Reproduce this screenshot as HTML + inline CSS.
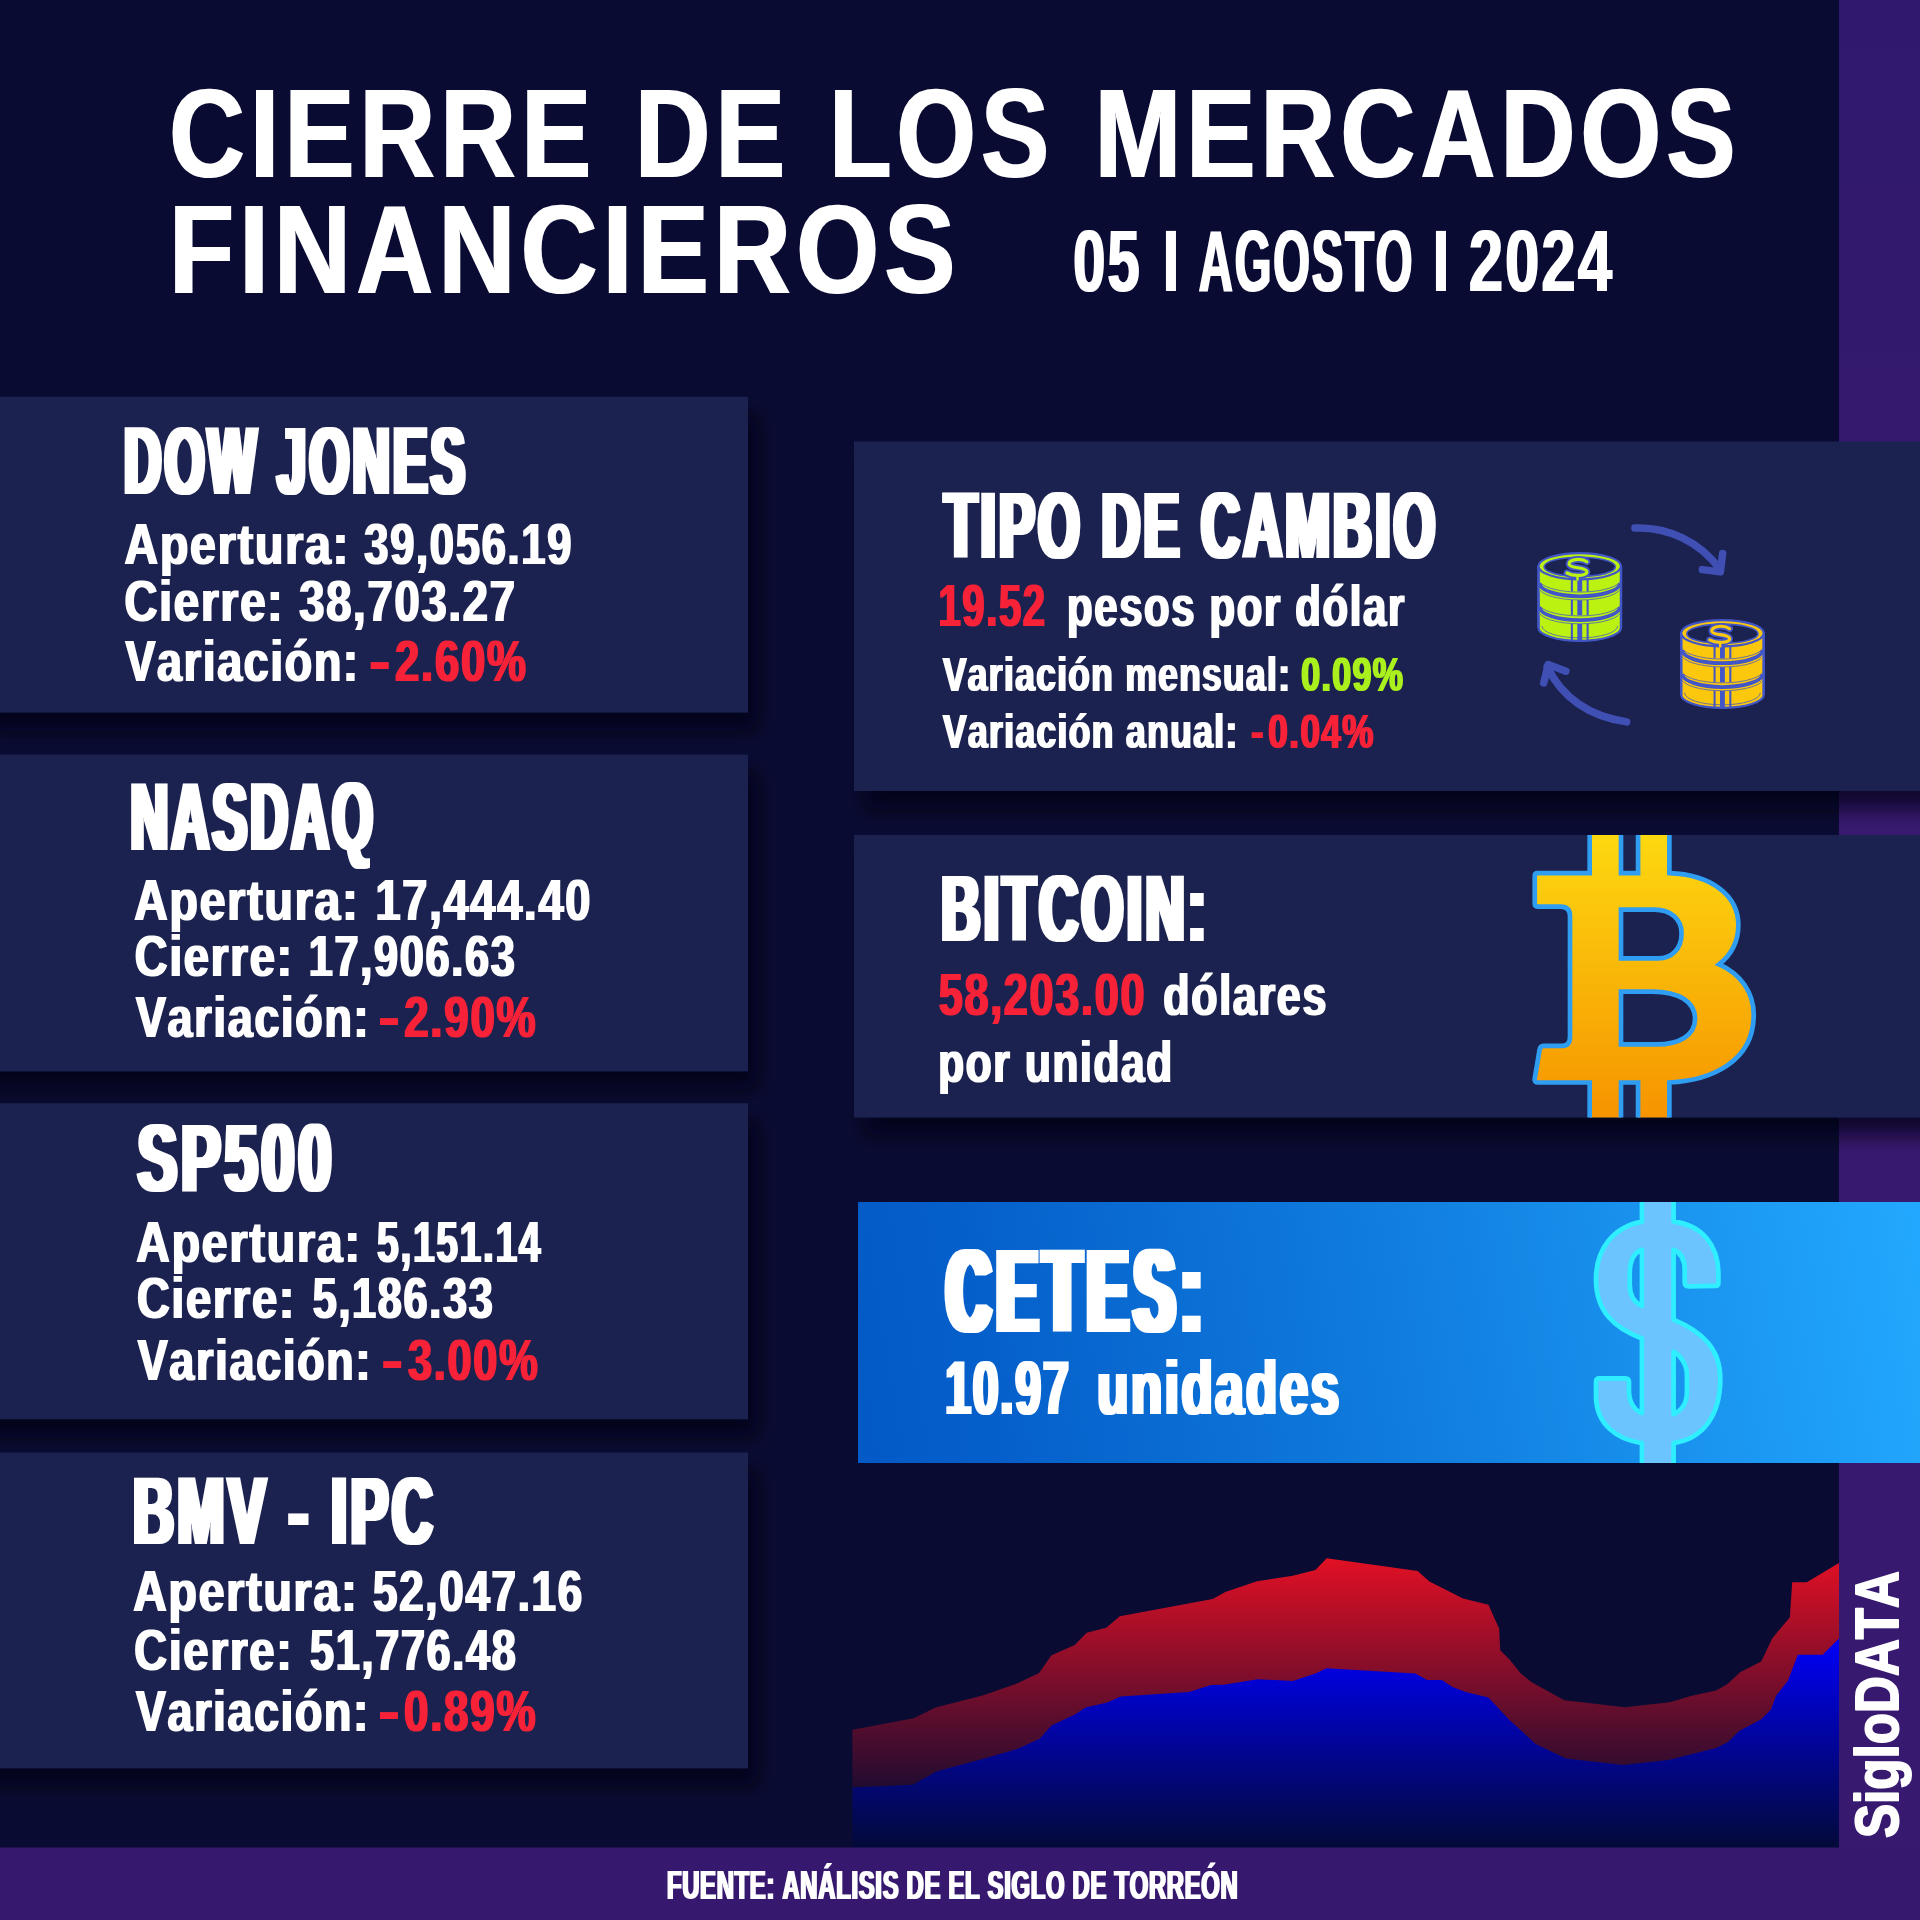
<!DOCTYPE html>
<html lang="es"><head><meta charset="utf-8"><title>Cierre de los mercados financieros</title>
<style>html,body{margin:0;padding:0;background:#0a0b32;}body{width:1920px;height:1920px;overflow:hidden}svg{display:block}</style>
</head><body>
<svg width="1920" height="1920" viewBox="0 0 1920 1920">
<defs>
<filter id="sh" x="-10%" y="-20%" width="120%" height="150%"><feDropShadow dx="10" dy="18" stdDeviation="9" flood-color="#000008" flood-opacity="0.7"/></filter>
<linearGradient id="cet" gradientUnits="userSpaceOnUse" x1="858" y1="1420" x2="1920" y2="1250"><stop offset="0" stop-color="#035ac6"/><stop offset="0.12" stop-color="#055fca"/><stop offset="0.5" stop-color="#107cde"/><stop offset="1" stop-color="#22a8fe"/></linearGradient>
<linearGradient id="gred" gradientUnits="userSpaceOnUse" x1="0" y1="1558" x2="0" y2="1815"><stop offset="0" stop-color="#e21024"/><stop offset="1" stop-color="#0a0b32"/></linearGradient>
<linearGradient id="gblue" gradientUnits="userSpaceOnUse" x1="0" y1="1640" x2="0" y2="1848"><stop offset="0" stop-color="#0000f8"/><stop offset="1" stop-color="#030a38"/></linearGradient>
<linearGradient id="gpur" gradientUnits="userSpaceOnUse" x1="0" y1="0" x2="0" y2="700"><stop offset="0" stop-color="#2f196e"/><stop offset="1" stop-color="#37196f"/></linearGradient>
<linearGradient id="gbtc" gradientUnits="userSpaceOnUse" x1="0" y1="80" x2="0" y2="1590"><stop offset="0" stop-color="#fdd810"/><stop offset="1" stop-color="#f69400"/></linearGradient>
<clipPath id="cbtc"><rect x="854" y="835" width="1066" height="282.5"/></clipPath>
<clipPath id="ccet"><rect x="858" y="1202" width="1062" height="261"/></clipPath>
<filter id="d1_0" x="-5%" y="-5%" width="110%" height="110%"><feMorphology operator="dilate" radius="1 0"/></filter>
<filter id="d3_0" x="-5%" y="-5%" width="110%" height="110%"><feMorphology operator="dilate" radius="3 0"/></filter>
<filter id="d5_0" x="-5%" y="-5%" width="110%" height="110%"><feMorphology operator="dilate" radius="5 0"/></filter>
<filter id="d2_0" x="-5%" y="-5%" width="110%" height="110%"><feMorphology operator="dilate" radius="2 0"/></filter>
</defs>
<rect width="1920" height="1920" fill="#0a0b32"/>
<rect x="1839" y="0" width="81" height="1920" fill="url(#gpur)"/>
<polygon points="852.4,1729.8 913.7,1718.3 935.6,1707.6 983.4,1695.3 1015.8,1684.0 1039.1,1673.0 1051.5,1655.3 1074.8,1644.9 1086.7,1632.8 1106.3,1627.8 1119.8,1616.2 1212.7,1599.1 1225.3,1592.0 1257.1,1581.3 1292.8,1575.7 1315.4,1570.1 1326.7,1558.3 1417.6,1570.9 1429.4,1581.6 1463.1,1598.5 1488.4,1604.7 1499.1,1628.6 1500.2,1650.2 1509.5,1659.5 1520.8,1673.6 1532.0,1682.6 1564.4,1700.3 1624.8,1707.3 1669.8,1702.3 1690.9,1696.1 1716.2,1690.5 1727.5,1684.0 1740.2,1672.2 1761.2,1661.5 1772.5,1637.9 1789.9,1617.3 1792.2,1582.2 1806.8,1582.2 1839.0,1563.1 1839,1848 852.4,1848" fill="url(#gred)"/>
<polygon points="852.4,1787.5 912.6,1784.7 937.0,1771.2 986.2,1758.0 1017.2,1749.0 1039.7,1738.8 1051.5,1725.6 1074.8,1714.4 1085.5,1707.6 1107.2,1702.6 1120.7,1696.4 1188.7,1691.9 1211.2,1685.1 1223.9,1684.8 1257.7,1679.2 1292.8,1680.9 1315.4,1673.6 1326.7,1668.2 1415.3,1673.6 1427.1,1680.1 1442.0,1680.1 1451.9,1686.8 1465.9,1691.9 1488.4,1697.5 1509.5,1720.0 1535.7,1743.9 1565.8,1758.5 1623.4,1765.0 1668.4,1759.9 1716.2,1748.1 1728.1,1741.9 1738.8,1731.2 1761.2,1719.2 1771.1,1709.6 1775.9,1696.1 1788.0,1680.6 1797.8,1654.8 1822.6,1654.8 1839.0,1638.4 1839,1848 852.4,1848" fill="url(#gblue)"/>
<rect x="0" y="1847.5" width="1920" height="72.5" fill="#36196f"/>
<rect x="-30" y="396.7" width="778" height="315.8" fill="#1b2350" filter="url(#sh)"/>
<rect x="-30" y="754.6" width="778" height="316.7" fill="#1b2350" filter="url(#sh)"/>
<rect x="-30" y="1103.3" width="778" height="315.9" fill="#1b2350" filter="url(#sh)"/>
<rect x="-30" y="1452.5" width="778" height="315.8" fill="#1b2350" filter="url(#sh)"/>
<rect x="854" y="441.5" width="1100" height="349.5" fill="#1b2350" filter="url(#sh)"/>
<rect x="854" y="835" width="1100" height="282.5" fill="#1b2350" filter="url(#sh)"/>
<rect x="858" y="1202" width="1062" height="261" fill="url(#cet)"/>
<g clip-path="url(#cbtc)"><g transform="translate(1480,820) scale(0.1875)"><path d="M585,40 L585,283 L307,283 Q292,283 292,298 L292,447 Q292,462 307,462 L430,462 Q480,462 480,512 L480,1155 Q480,1205 440,1205 L342,1205 Q322,1205 318,1224 L292,1378 Q288,1400 310,1400 L585,1400 L585,1640 L752,1640 L752,1400 L843,1400 L843,1640 L1010,1640 L1010,1400 C1230,1390 1460,1290 1460,1040 C1460,920 1390,820 1275,770 C1345,715 1378,640 1378,560 C1378,400 1230,290 1010,283 L1010,40 L843,40 L843,283 L752,283 L752,40 Z M752,478 L930,478 C1020,478 1075,530 1075,605 C1075,690 1020,738 950,738 L752,738 Z M752,915 L920,915 C1060,915 1147,970 1147,1060 C1147,1150 1060,1197 940,1197 L752,1197 Z" fill="url(#gbtc)" fill-rule="evenodd" stroke="#2e9df2" stroke-width="25" stroke-linejoin="miter"/></g></g>
<g clip-path="url(#ccet)"><g transform="translate(1500,1180) scale(0.1875)"><path d="M757,60 L757,222 C610,250 512,360 512,530 C512,700 610,790 757,845 L757,1243 C720,1230 690,1190 688,1130 L688,1078 Q688,1058 668,1058 L530,1058 Q512,1058 512,1076 L512,1160 C515,1300 620,1385 757,1403 L757,1560 L926,1560 L926,1403 C1080,1380 1175,1260 1175,1060 C1175,900 1080,810 926,745 L926,372 C960,385 985,420 985,480 L985,547 Q985,567 1005,567 L1148,565 Q1165,565 1165,548 L1165,500 C1165,350 1080,240 926,222 L926,60 Z M757,372 C720,385 692,420 692,500 L692,560 C692,620 720,655 757,672 Z M926,915 C960,935 997,980 997,1040 L997,1130 C997,1190 965,1230 926,1248 Z" fill="#6cc4ff" fill-rule="evenodd" stroke="#2eeeff" stroke-width="25" stroke-linejoin="round"/></g></g>
<g transform="translate(1480,480) scale(0.1875)">
<path d="M312,460 L312,788 A220,70 0 0 0 752,788 L752,460 Z" fill="#bcf212" stroke="#4256c8" stroke-width="12"/>
<line x1="490" y1="530" x2="490" y2="856" stroke="#4256c8" stroke-width="11"/>
<line x1="532" y1="530" x2="532" y2="858" stroke="#4256c8" stroke-width="26"/>
<line x1="574" y1="530" x2="574" y2="856" stroke="#4256c8" stroke-width="11"/>
<path d="M330,778 A202,64 0 0 0 734,778" fill="none" stroke="#4256c8" stroke-width="4"/>
<clipPath id="ck532"><path d="M312,460 L312,788 A220,70 0 0 0 752,788 L752,460 Z"/></clipPath><g clip-path="url(#ck532)">
<path d="M312,548 A220,70 0 0 0 752,548" fill="none" stroke="#bcf212" stroke-width="46"/>
<path d="M312,528 A220,70 0 0 0 752,528" fill="none" stroke="#4256c8" stroke-width="4"/>
<path d="M312,570 A220,70 0 0 0 752,570" fill="none" stroke="#4256c8" stroke-width="4"/>
<path d="M318,550 A214,70 0 0 0 746,550" fill="none" stroke="#4256c8" stroke-width="20"/>
<path d="M312,675 A220,70 0 0 0 752,675" fill="none" stroke="#bcf212" stroke-width="46"/>
<path d="M312,655 A220,70 0 0 0 752,655" fill="none" stroke="#4256c8" stroke-width="4"/>
<path d="M312,697 A220,70 0 0 0 752,697" fill="none" stroke="#4256c8" stroke-width="4"/>
<path d="M318,677 A214,70 0 0 0 746,677" fill="none" stroke="#4256c8" stroke-width="20"/>
</g>
<path d="M312,460 L312,788 M752,788 L752,460" fill="none" stroke="#4256c8" stroke-width="12"/>
<ellipse cx="532" cy="460" rx="220" ry="70" fill="#bcf212" stroke="#4256c8" stroke-width="12"/>
<ellipse cx="532" cy="463" rx="190" ry="51" fill="#1b2350" stroke="#4256c8" stroke-width="9"/>
<path d="M520,510 L520,532" stroke="#4256c8" stroke-width="30" fill="none"/>
<path d="M570,436 C540,414 470,422 476,450 C482,474 564,462 570,488 C574,512 500,516 464,496" fill="none" stroke="#4256c8" stroke-width="36" stroke-linecap="round"/>
<path d="M520,510 L520,536" stroke="#bcf212" stroke-width="13" fill="none"/>
<path d="M570,436 C540,414 470,422 476,450 C482,474 564,462 570,488 C574,512 500,516 464,496" fill="none" stroke="#bcf212" stroke-width="17" stroke-linecap="round"/>
<path d="M1073,817 L1073,1145 A220,70 0 0 0 1513,1145 L1513,817 Z" fill="#fcc80e" stroke="#4256c8" stroke-width="12"/>
<line x1="1251" y1="887" x2="1251" y2="1213" stroke="#4256c8" stroke-width="11"/>
<line x1="1293" y1="887" x2="1293" y2="1215" stroke="#4256c8" stroke-width="26"/>
<line x1="1335" y1="887" x2="1335" y2="1213" stroke="#4256c8" stroke-width="11"/>
<path d="M1091,1135 A202,64 0 0 0 1495,1135" fill="none" stroke="#4256c8" stroke-width="4"/>
<clipPath id="ck1293"><path d="M1073,817 L1073,1145 A220,70 0 0 0 1513,1145 L1513,817 Z"/></clipPath><g clip-path="url(#ck1293)">
<path d="M1073,905 A220,70 0 0 0 1513,905" fill="none" stroke="#fcc80e" stroke-width="46"/>
<path d="M1073,885 A220,70 0 0 0 1513,885" fill="none" stroke="#4256c8" stroke-width="4"/>
<path d="M1073,927 A220,70 0 0 0 1513,927" fill="none" stroke="#4256c8" stroke-width="4"/>
<path d="M1079,907 A214,70 0 0 0 1507,907" fill="none" stroke="#4256c8" stroke-width="20"/>
<path d="M1073,1032 A220,70 0 0 0 1513,1032" fill="none" stroke="#fcc80e" stroke-width="46"/>
<path d="M1073,1012 A220,70 0 0 0 1513,1012" fill="none" stroke="#4256c8" stroke-width="4"/>
<path d="M1073,1054 A220,70 0 0 0 1513,1054" fill="none" stroke="#4256c8" stroke-width="4"/>
<path d="M1079,1034 A214,70 0 0 0 1507,1034" fill="none" stroke="#4256c8" stroke-width="20"/>
</g>
<path d="M1073,817 L1073,1145 M1513,1145 L1513,817" fill="none" stroke="#4256c8" stroke-width="12"/>
<ellipse cx="1293" cy="817" rx="220" ry="70" fill="#fcc80e" stroke="#4256c8" stroke-width="12"/>
<ellipse cx="1293" cy="820" rx="190" ry="51" fill="#1b2350" stroke="#4256c8" stroke-width="9"/>
<path d="M1281,867 L1281,889" stroke="#4256c8" stroke-width="30" fill="none"/>
<path d="M1331,793 C1301,771 1231,779 1237,807 C1243,831 1325,819 1331,845 C1335,869 1261,873 1225,853" fill="none" stroke="#4256c8" stroke-width="36" stroke-linecap="round"/>
<path d="M1281,867 L1281,893" stroke="#fcc80e" stroke-width="13" fill="none"/>
<path d="M1331,793 C1301,771 1231,779 1237,807 C1243,831 1325,819 1331,845 C1335,869 1261,873 1225,853" fill="none" stroke="#fcc80e" stroke-width="17" stroke-linecap="round"/>
<g fill="none" stroke="#3f4fb4" stroke-width="40" stroke-linecap="round" stroke-linejoin="round">
<path d="M826,256 A530,530 0 0 1 1278,474"/>
<path d="M1186,478 L1282,490 L1294,392"/>
<path d="M782,1290 Q480,1245 358,996"/>
<path d="M340,1082 L364,984 L458,1020"/>
</g></g>
<g font-family="'Liberation Sans', sans-serif" font-weight="700" style="font-kerning:none" stroke-linejoin="round">
<g filter="url(#d1_0)">
<text transform="translate(169.20,176.90) scale(0.8254,1)" font-size="126.89" letter-spacing="6.34" fill="#fff">CIERRE</text>
<text transform="translate(635.03,176.90) scale(0.8217,1)" font-size="126.89" letter-spacing="6.34" fill="#fff">DE</text>
<text transform="translate(829.18,176.90) scale(0.8036,1)" font-size="126.89" letter-spacing="6.34" fill="#fff">LOS</text>
<text transform="translate(1094.67,176.90) scale(0.8168,1)" font-size="126.89" letter-spacing="6.34" fill="#fff">MERCADOS</text>
<text transform="translate(168.88,293.40) scale(0.8436,1)" font-size="126.16" letter-spacing="6.31" fill="#fff">FINANCIEROS</text>
<text transform="translate(1073.22,291.30) scale(0.6573,1)" font-size="87.65" letter-spacing="3.51" fill="#fff">05</text>
<text transform="translate(1163.28,291.30) scale(0.6337,1)" font-size="87.65" letter-spacing="3.51" fill="#fff">I</text>
<text transform="translate(1198.83,291.30) scale(0.5377,1)" font-size="87.65" letter-spacing="3.51" fill="#fff">AGOSTO</text>
<text transform="translate(1433.28,291.30) scale(0.6337,1)" font-size="87.65" letter-spacing="3.51" fill="#fff">I</text>
<text transform="translate(1468.89,291.30) scale(0.6956,1)" font-size="87.65" letter-spacing="3.51" fill="#fff">2024</text>
</g>
<g filter="url(#d3_0)">
<text transform="translate(124.28,493.75) scale(0.5290,1)" font-size="96.51" letter-spacing="6.76" fill="#fff">DOW JONES</text>
</g>
<g filter="url(#d1_0)">
<text transform="translate(124.54,564.00) scale(0.8023,1)" font-size="57.85" letter-spacing="2.31" fill="#fff">Apertura:</text>
<text transform="translate(364.30,564.00) scale(0.7508,1)" font-size="57.85" letter-spacing="2.31" fill="#fff">39,056.19</text>
<text transform="translate(124.43,620.80) scale(0.7894,1)" font-size="57.85" letter-spacing="2.31" fill="#fff">Cierre:</text>
<text transform="translate(299.16,620.80) scale(0.7824,1)" font-size="57.85" letter-spacing="2.31" fill="#fff">38,703.27</text>
<text transform="translate(125.39,681.25) scale(0.7740,1)" font-size="57.85" letter-spacing="2.31" fill="#fff">Variación:</text>
<text transform="translate(369.34,681.25) scale(1.0893,1)" font-size="57.85" letter-spacing="2.31" fill="#f82438">-</text><text transform="translate(394.98,681.25) scale(0.7558,1)" font-size="57.85" letter-spacing="2.31" fill="#f82438">2.60%</text>
</g>
<g filter="url(#d3_0)">
<text transform="translate(130.80,849.80) scale(0.5349,1)" font-size="96.51" letter-spacing="6.76" fill="#fff">NASDAQ</text>
</g>
<g filter="url(#d1_0)">
<text transform="translate(134.25,920.20) scale(0.8012,1)" font-size="57.85" letter-spacing="2.31" fill="#fff">Apertura:</text>
<text transform="translate(375.46,920.20) scale(0.7790,1)" font-size="57.85" letter-spacing="2.31" fill="#fff">17,444.40</text>
<text transform="translate(134.84,976.10) scale(0.7842,1)" font-size="57.85" letter-spacing="2.31" fill="#fff">Cierre:</text>
<text transform="translate(308.68,976.10) scale(0.7474,1)" font-size="57.85" letter-spacing="2.31" fill="#fff">17,906.63</text>
<text transform="translate(135.89,1037.30) scale(0.7744,1)" font-size="57.85" letter-spacing="2.31" fill="#fff">Variación:</text>
<text transform="translate(378.54,1037.30) scale(1.0893,1)" font-size="57.85" letter-spacing="2.31" fill="#f82438">-</text><text transform="translate(404.18,1037.30) scale(0.7582,1)" font-size="57.85" letter-spacing="2.31" fill="#f82438">2.90%</text>
</g>
<g filter="url(#d3_0)">
<text transform="translate(137.80,1191.25) scale(0.6105,1)" font-size="96.51" letter-spacing="6.76" fill="#fff">SP500</text>
</g>
<g filter="url(#d1_0)">
<text transform="translate(136.34,1262.30) scale(0.8019,1)" font-size="57.85" letter-spacing="2.31" fill="#fff">Apertura:</text>
<text transform="translate(377.09,1262.30) scale(0.6774,1)" font-size="57.85" letter-spacing="2.31" fill="#fff">5,151.14</text>
<text transform="translate(136.94,1318.30) scale(0.7847,1)" font-size="57.85" letter-spacing="2.31" fill="#fff">Cierre:</text>
<text transform="translate(312.67,1318.30) scale(0.7465,1)" font-size="57.85" letter-spacing="2.31" fill="#fff">5,186.33</text>
<text transform="translate(137.69,1379.50) scale(0.7747,1)" font-size="57.85" letter-spacing="2.31" fill="#fff">Variación:</text>
<text transform="translate(381.84,1379.50) scale(1.0893,1)" font-size="57.85" letter-spacing="2.31" fill="#f82438">-</text><text transform="translate(408.01,1379.50) scale(0.7481,1)" font-size="57.85" letter-spacing="2.31" fill="#f82438">3.00%</text>
</g>
<g filter="url(#d3_0)">
<text transform="translate(133.15,1543.90) scale(0.5811,1)" font-size="96.51" letter-spacing="6.76" fill="#fff">BMV - IPC</text>
</g>
<g filter="url(#d1_0)">
<text transform="translate(133.15,1611.00) scale(0.8015,1)" font-size="57.85" letter-spacing="2.31" fill="#fff">Apertura:</text>
<text transform="translate(373.05,1611.00) scale(0.7581,1)" font-size="57.85" letter-spacing="2.31" fill="#fff">52,047.16</text>
<text transform="translate(134.34,1670.40) scale(0.7847,1)" font-size="57.85" letter-spacing="2.31" fill="#fff">Cierre:</text>
<text transform="translate(310.07,1670.40) scale(0.7455,1)" font-size="57.85" letter-spacing="2.31" fill="#fff">51,776.48</text>
<text transform="translate(135.89,1731.40) scale(0.7727,1)" font-size="57.85" letter-spacing="2.31" fill="#fff">Variación:</text>
<text transform="translate(378.54,1731.40) scale(1.0893,1)" font-size="57.85" letter-spacing="2.31" fill="#f82438">-</text><text transform="translate(403.96,1731.40) scale(0.7594,1)" font-size="57.85" letter-spacing="2.31" fill="#f82438">0.89%</text>
</g>
<g filter="url(#d3_0)">
<text transform="translate(944.60,558.40) scale(0.5644,1)" font-size="94.04" letter-spacing="6.58" fill="#fff">TIPO DE CAMBIO</text>
</g>
<g filter="url(#d1_0)">
<text transform="translate(938.48,625.60) scale(0.6681,1)" font-size="59.88" letter-spacing="2.40" fill="#f82438">19.52</text>
<text transform="translate(1066.99,625.60) scale(0.7185,1)" font-size="58.24" letter-spacing="2.33" fill="#fff">pesos por dólar</text>
<text transform="translate(942.96,691.25) scale(0.7343,1)" font-size="47.97" letter-spacing="1.92" fill="#fff">Variación mensual:</text>
<text transform="translate(1301.26,691.25) scale(0.7074,1)" font-size="47.97" letter-spacing="1.92" fill="#aaf01e">0.09%</text>
<text transform="translate(942.96,748.00) scale(0.7374,1)" font-size="47.97" letter-spacing="1.92" fill="#fff">Variación anual:</text>
<text transform="translate(1251.18,748.00) scale(0.7554,1)" font-size="47.97" letter-spacing="1.92" fill="#f82438">-</text><text transform="translate(1268.36,748.00) scale(0.7305,1)" font-size="47.97" letter-spacing="1.92" fill="#f82438">0.04%</text>
</g>
<g filter="url(#d3_0)">
<text transform="translate(941.62,940.60) scale(0.5705,1)" font-size="93.90" letter-spacing="6.57" fill="#fff">BITCOIN:</text>
</g>
<g filter="url(#d1_0)">
<text transform="translate(938.67,1015.00) scale(0.7208,1)" font-size="59.88" letter-spacing="2.40" fill="#f82438">58,203.00</text>
<text transform="translate(1163.24,1015.00) scale(0.7376,1)" font-size="58.24" letter-spacing="2.33" fill="#fff">dólares</text>
<text transform="translate(938.21,1082.20) scale(0.7372,1)" font-size="57.41" letter-spacing="2.30" fill="#fff">por unidad</text>
</g>
<g filter="url(#d5_0)">
<text transform="translate(946.95,1331.90) scale(0.5002,1)" font-size="119.19" letter-spacing="14.30" fill="#fff">CETES:</text>
</g>
<g filter="url(#d2_0)">
<text transform="translate(945.38,1414.00) scale(0.6028,1)" font-size="75.58" letter-spacing="3.78" fill="#fff">10.97</text>
<text transform="translate(1097.34,1414.00) scale(0.6749,1)" font-size="75.58" letter-spacing="3.78" fill="#fff">unidades</text>
</g>
<g filter="url(#d1_0)">
<text transform="translate(666.91,1898.75) scale(0.5854,1)" font-size="40.70" letter-spacing="1.22" fill="#fff">FUENTE: ANÁLISIS DE EL SIGLO DE TORREÓN</text>
</g>
<g transform="translate(1897.5,1838) rotate(-90)"><text x="0" y="0" font-size="61" textLength="267" lengthAdjust="spacingAndGlyphs" fill="#fff" stroke="#fff" stroke-width="2">SigloDATA</text></g>
</g>
</svg>
</body></html>
